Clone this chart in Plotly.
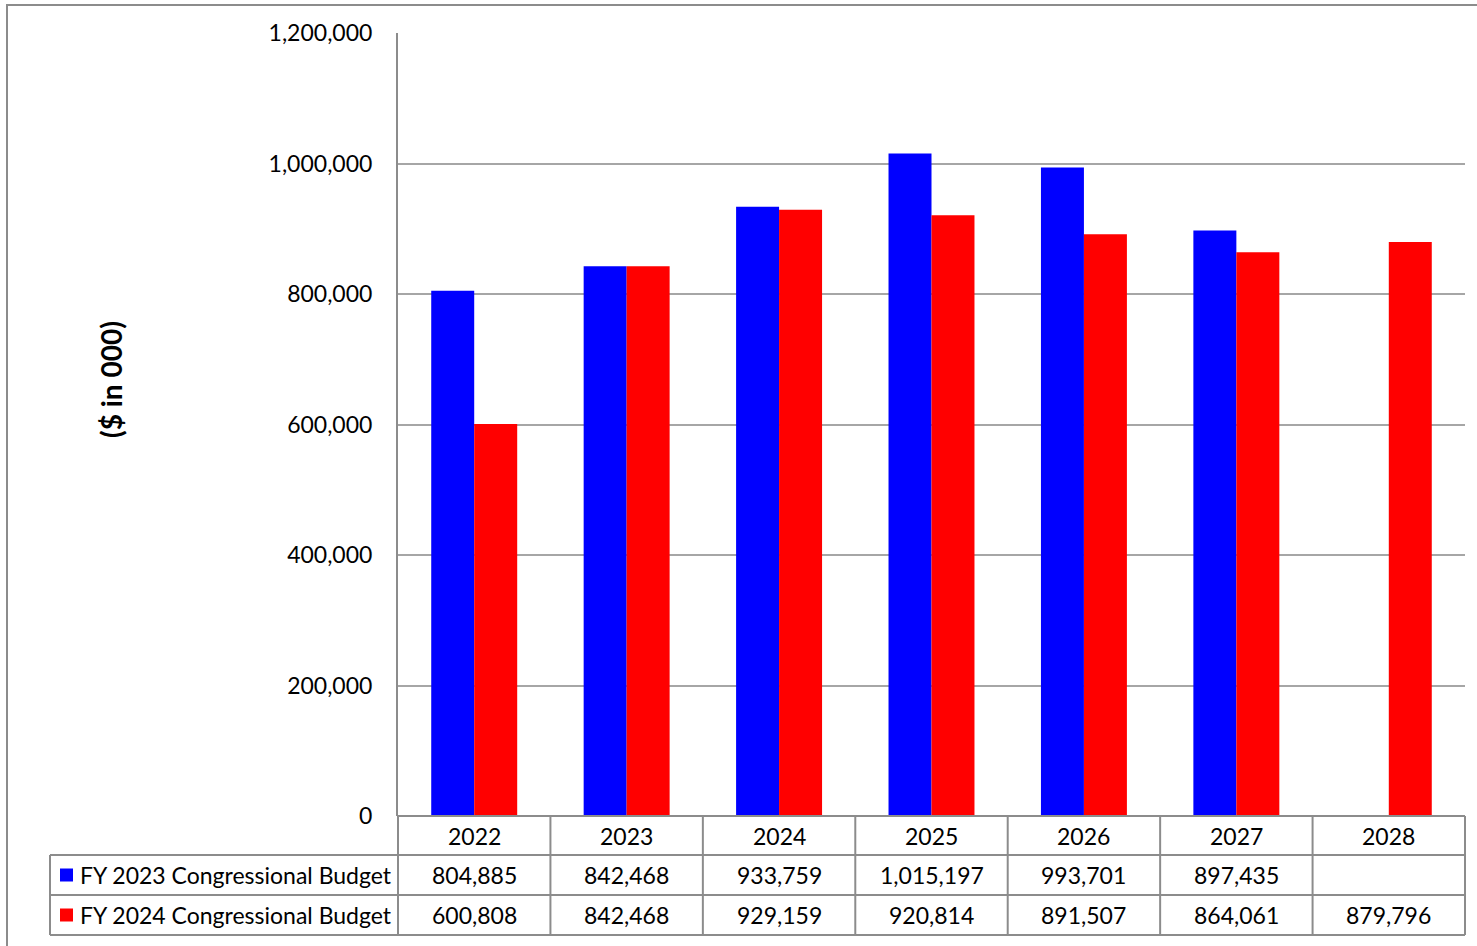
import plotly.graph_objects as go

years = ["2022", "2023", "2024", "2025", "2026", "2027", "2028"]
fy2023 = [804885, 842468, 933759, 1015197, 993701, 897435, None]
fy2024 = [600808, 842468, 929159, 920814, 891507, 864061, 879796]
series_names = ["FY 2023 Congressional Budget", "FY 2024 Congressional Budget"]
series_colors = ["#0000FF", "#FF0000"]
tick_vals = [0, 200000, 400000, 600000, 800000, 1000000, 1200000]

W, H = 1477, 946
L, R, T, B = 398, 1465, 33, 816
FONT = "Lato"
GRID = "#A6A6A6"


def px(x):
    return (x - L) / (R - L)


def py(y):
    return (B - y) / (B - T)


fig = go.Figure()
for name, vals, col in zip(series_names, [fy2023, fy2024], series_colors):
    fig.add_trace(go.Bar(x=years, y=vals, name=name, marker_color=col,
                         marker_line_width=0, showlegend=False))

shapes = []
annotations = []

# outer chart border (runs off the right and bottom edges)
shapes.append(dict(type="rect", xref="paper", yref="paper",
                   x0=px(7), x1=px(1490), y0=py(5), y1=py(960),
                   line=dict(color="#8C8C8C", width=2), layer="below"))

# data table grid
row_lines = [816, 855, 895, 935]
col_w = (R - L) / len(years)
line_style = dict(color="#8C8C8C", width=2)
shapes.append(dict(type="line", xref="paper", yref="paper", x0=px(L), x1=px(R),
                   y0=py(816), y1=py(816), line=line_style))
for yl in row_lines[1:]:
    shapes.append(dict(type="line", xref="paper", yref="paper", x0=px(50), x1=px(R),
                       y0=py(yl), y1=py(yl), line=line_style))
for i in range(len(years) + 1):
    xl = L + i * col_w
    shapes.append(dict(type="line", xref="paper", yref="paper", x0=px(xl), x1=px(xl),
                       y0=py(816), y1=py(935), line=line_style))
shapes.append(dict(type="line", xref="paper", yref="paper", x0=px(50), x1=px(50),
                   y0=py(855), y1=py(935), line=line_style))

cell_font = dict(family=FONT, size=23, color="black")
for i, yr in enumerate(years):
    cx = L + (i + 0.5) * col_w
    annotations.append(dict(x=px(cx), y=py(835.5), xref="paper", yref="paper", text=yr,
                            showarrow=False, font=cell_font, xanchor="center", yanchor="middle"))
    for r, vals in enumerate([fy2023, fy2024]):
        v = vals[i]
        if v is None:
            continue
        annotations.append(dict(x=px(cx), y=py(875 + 40 * r), xref="paper", yref="paper",
                                text=f"{v:,}", showarrow=False, font=cell_font,
                                xanchor="center", yanchor="middle"))

for r, (name, col) in enumerate(zip(series_names, series_colors)):
    yc = 875 + 40 * r
    shapes.append(dict(type="rect", xref="paper", yref="paper",
                       x0=px(60), x1=px(73), y0=py(yc - 6.5), y1=py(yc + 6.5),
                       fillcolor=col, line=dict(width=0)))
    annotations.append(dict(x=px(78), y=py(yc), xref="paper", yref="paper", text=name,
                            showarrow=False, font=cell_font, xanchor="left", yanchor="middle"))

# y-axis title
annotations.append(dict(x=px(111), y=py(380), xref="paper", yref="paper",
                        text="<b>($ in 000)</b>", textangle=-90, showarrow=False,
                        font=dict(family=FONT, size=28, color="black"),
                        xanchor="center", yanchor="middle"))

fig.update_layout(
    width=W, height=H,
    margin=dict(l=L, r=W - R, t=T, b=H - B, pad=0),
    plot_bgcolor="white", paper_bgcolor="white",
    barmode="group", bargap=0.436, bargroupgap=0,
    font=dict(family=FONT, size=23, color="black"),
    xaxis=dict(showticklabels=False, showgrid=False, zeroline=False,
               showline=False, ticks=""),
    yaxis=dict(range=[0, 1200000], tickvals=tick_vals, tickformat=",d",
               showgrid=True, gridcolor=GRID, gridwidth=1.5, zeroline=False,
               showline=True, linecolor="#8C8C8C", linewidth=2, ticks="",
               ticklabelstandoff=19, tickfont=dict(family=FONT, size=23)),
    shapes=shapes, annotations=annotations,
)

fig.write_html("out.html")
